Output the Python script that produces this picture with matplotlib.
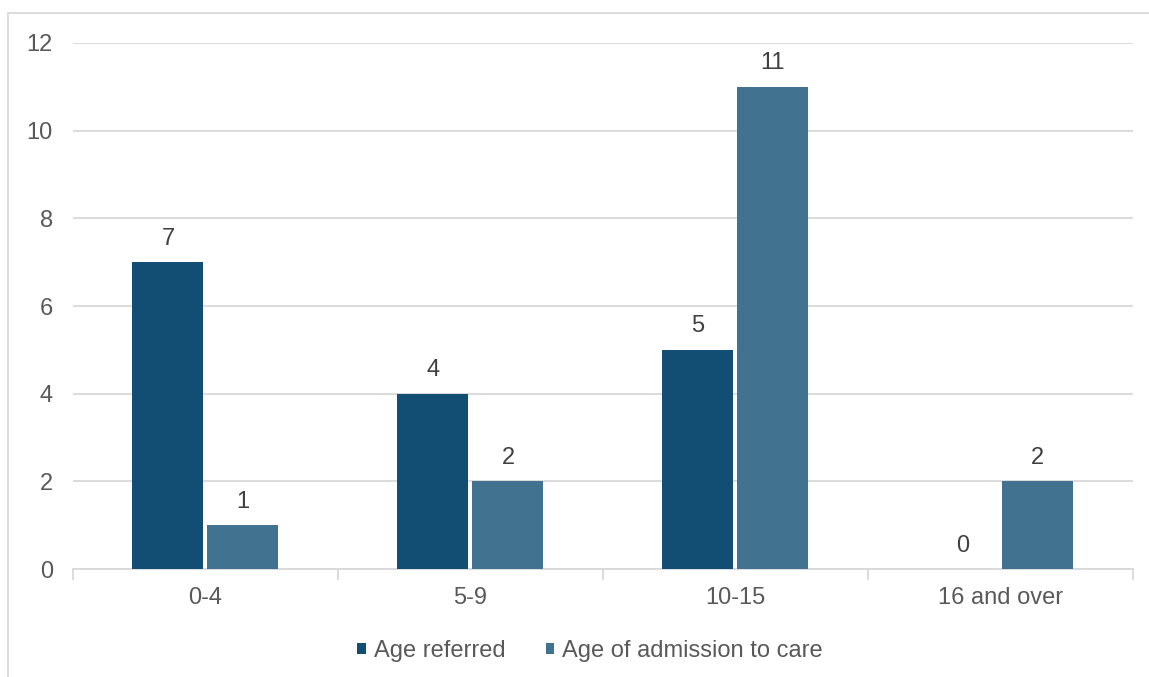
import matplotlib
matplotlib.use("Agg")
import matplotlib.pyplot as plt
from matplotlib.lines import Line2D
import numpy as np

plt.rcParams['font.family'] = ['Liberation Sans', 'DejaVu Sans']

categories = ["0-4", "5-9", "10-15", "16 and over"]
age_referred = [7, 4, 5, 0]
age_admission = [1, 2, 11, 2]
series_names = ["Age referred", "Age of admission to care"]
colors = ["#124E73", "#41728F"]
yticks = [0, 2, 4, 6, 8, 10, 12]

fig = plt.figure(figsize=(11.49, 6.77), dpi=100)
ax = fig.add_axes([0.0635, 0.1595, 0.9225, 0.777])

x = np.arange(len(categories))
w = 0.268
off = 0.1415
grid_c = "#D9D9D9"
fs = 17

for i, (vals, c, name) in enumerate(zip([age_referred, age_admission], colors, series_names)):
    pos = x + (off if i else -off)
    ax.bar(pos, vals, width=w, color=c, label=name, zorder=3)
    for p, v in zip(pos, vals):
        ax.annotate(str(v), (p, v), xytext=(0, 9), textcoords="offset points",
                    ha="center", va="bottom", fontsize=fs, color="#404040", zorder=4,
                    bbox=dict(boxstyle="square,pad=0.15", fc="white", ec="none"))

ax.set_xlim(-0.5, len(categories) - 0.5)
ax.set_ylim(0, 12)
ax.set_yticks(yticks)
ax.set_yticklabels([str(t) for t in yticks])
ax.yaxis.grid(True, color=grid_c, linewidth=1.3, zorder=0)
ax.set_axisbelow(True)
for s in ["top", "right", "left"]:
    ax.spines[s].set_visible(False)
ax.spines["bottom"].set_color(grid_c)
ax.spines["bottom"].set_linewidth(1.3)
ax.tick_params(axis="y", length=0, labelsize=fs, labelcolor="#595959", pad=14.5)
ax.set_xticks(x)
ax.set_xticklabels(categories)
ax.tick_params(axis="x", which="major", length=0, labelsize=fs, labelcolor="#595959", pad=13)
ax.set_xticks(np.arange(-0.5, len(categories)), minor=True)
ax.tick_params(axis="x", which="minor", length=8, color=grid_c, width=1.3)

ax.legend(loc="upper center", bbox_to_anchor=(0.488, -0.095), ncol=2, frameon=False,
          fontsize=fs, labelcolor="#595959", handlelength=0.35, handleheight=0.35,
          handletextpad=0.35, columnspacing=1.7)

# outer chart border (left and top)
fig.add_artist(Line2D([8/1149, 8/1149], [0, 1 - 13/677], transform=fig.transFigure, color=grid_c, lw=1.3))
fig.add_artist(Line2D([8/1149, 1], [1 - 13/677, 1 - 13/677], transform=fig.transFigure, color=grid_c, lw=1.3))

fig.savefig("out.png", dpi=100)
